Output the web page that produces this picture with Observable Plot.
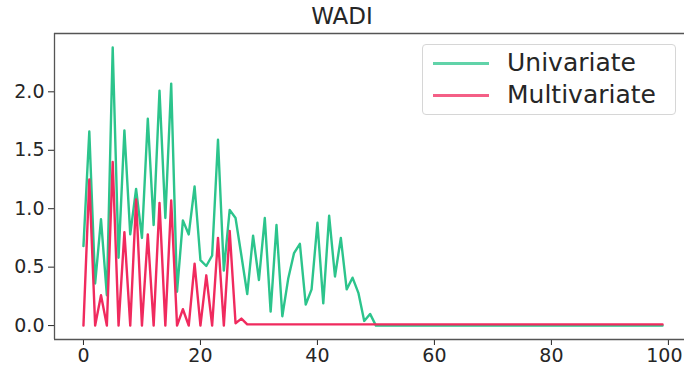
<!DOCTYPE html>
<html>
<head>
<meta charset="utf-8">
<script src="https://cdn.jsdelivr.net/npm/d3@7"></script>
<script src="https://cdn.jsdelivr.net/npm/@observablehq/plot@0.6"></script>
<style>
  html, body { margin: 0; padding: 0; background: #fff; overflow: hidden; }
  #wrap { position: relative; width: 684px; height: 367px; font-family: "DejaVu Sans", sans-serif; color: #262626; }
  #title { height: 28px; line-height: 32px; font-size: 23px; text-align: center; width: 684px; }
  #legend { position: absolute; left: 422px; top: 44px; width: 252px; height: 69px; border: 1px solid #d6d6d6; border-radius: 4px; background: rgba(255,255,255,0.85); }
  .lg-line { position: absolute; left: 10px; width: 56px; height: 2.5px; }
  .lg-text { position: absolute; left: 84px; font-size: 25px; line-height: 28px; white-space: nowrap; }
</style>
</head>
<body>
<div id="wrap">
  <div id="title">WADI</div>
  <div id="chart"></div>
  <div id="legend"></div>
</div>
<script>
// ---- data ----
const seriesNames = ["Univariate", "Multivariate"];
const seriesColors = ["#2cc48c", "#f02a5e"];
const univariate = [
  0.68,1.66,0.36,0.91,0.26,2.38,0.58,1.67,0.78,1.17,
  0.75,1.77,0.86,2.01,0.92,2.07,0.29,0.90,0.78,1.19,
  0.56,0.51,0.60,1.59,0.47,0.99,0.92,0.60,0.27,0.77,
  0.39,0.92,0.12,0.86,0.08,0.40,0.62,0.70,0.18,0.31,
  0.88,0.19,0.94,0.42,0.75,0.31,0.41,0.28,0.04,0.10,
  0,0,0,0,0,0,0,0,0,0,
  0,0,0,0,0,0,0,0,0,0,
  0,0,0,0,0,0,0,0,0,0,
  0,0,0,0,0,0,0,0,0,0,
  0,0,0,0,0,0,0,0,0,0
];
const multivariate = [
  0,1.25,0,0.26,0,1.40,0,0.80,0,1.08,
  0,0.78,0,1.05,0,1.07,0,0.14,0,0.53,
  0,0.43,0,0.75,0,0.81,0.02,0.06,0.01,0.01,
  0.01,0.01,0.01,0.01,0.01,0.01,0.01,0.01,0.01,0.01,
  0.01,0.01,0.01,0.01,0.01,0.01,0.01,0.01,0.01,0.01,
  0.01,0.01,0.01,0.01,0.01,0.01,0.01,0.01,0.01,0.01,
  0.01,0.01,0.01,0.01,0.01,0.01,0.01,0.01,0.01,0.01,
  0.01,0.01,0.01,0.01,0.01,0.01,0.01,0.01,0.01,0.01,
  0.01,0.01,0.01,0.01,0.01,0.01,0.01,0.01,0.01,0.01,
  0.01,0.01,0.01,0.01,0.01,0.01,0.01,0.01,0.01,0.01
];
const xTicks = [0, 20, 40, 60, 80, 100];
const yTicks = [0.0, 0.5, 1.0, 1.5, 2.0];

// ---- build table ----
const rows = [];
[univariate, multivariate].forEach((arr, s) => {
  arr.forEach((v, i) => rows.push({x: i, y: v, series: seriesNames[s]}));
});

const n = univariate.length - 1;
const xDom = [-0.05 * n, n * 1.05];
const yMax = d3.max([...univariate, ...multivariate]);
const yDom = [-0.05 * yMax, yMax * 1.05];
const spine = "#555";
const lastTick = xTicks[xTicks.length - 1];

const chart = Plot.plot({
  width: 684,
  height: 339,
  marginTop: 5,
  marginLeft: 54,
  marginRight: -7,
  marginBottom: 28,
  style: {fontFamily: "DejaVu Sans, sans-serif", fontSize: "19px", color: "#262626", background: "#fff", overflow: "hidden"},
  x: {domain: xDom, label: null},
  y: {domain: yDom, label: null},
  color: {domain: seriesNames, range: seriesColors},
  marks: [
    Plot.axisY({ticks: yTicks, tickFormat: d3.format(".1f"), tickSize: 6, tickPadding: 4, label: null}),
    Plot.axisX({ticks: xTicks, tickFormat: d => d === lastTick ? "" : String(d), tickSize: 6, tickPadding: 3, label: null}),
    Plot.axisX({ticks: [lastTick], tickFormat: d => String(d), tickSize: 0, tickPadding: 9, dx: -4, label: null}),
    Plot.ruleY([yDom[1]], {stroke: spine, strokeWidth: 1.3}),
    Plot.ruleY([yDom[0]], {stroke: spine, strokeWidth: 1.3}),
    Plot.ruleX([xDom[0]], {stroke: spine, strokeWidth: 1.3}),
    Plot.lineY(rows, {x: "x", y: "y", z: "series", stroke: "series", strokeWidth: 2.4})
  ]
});
document.getElementById("chart").appendChild(chart);

// ---- legend ----
const lg = document.getElementById("legend");
seriesNames.forEach((name, i) => {
  const top = 17 + i * 32;
  const ln = document.createElement("div");
  ln.className = "lg-line";
  ln.style.top = top + "px";
  ln.style.background = seriesColors[i];
  ln.style.opacity = 0.75;
  lg.appendChild(ln);
  const tx = document.createElement("div");
  tx.className = "lg-text";
  tx.style.top = (top - 13) + "px";
  tx.textContent = name;
  lg.appendChild(tx);
});
</script>
</body>
</html>
